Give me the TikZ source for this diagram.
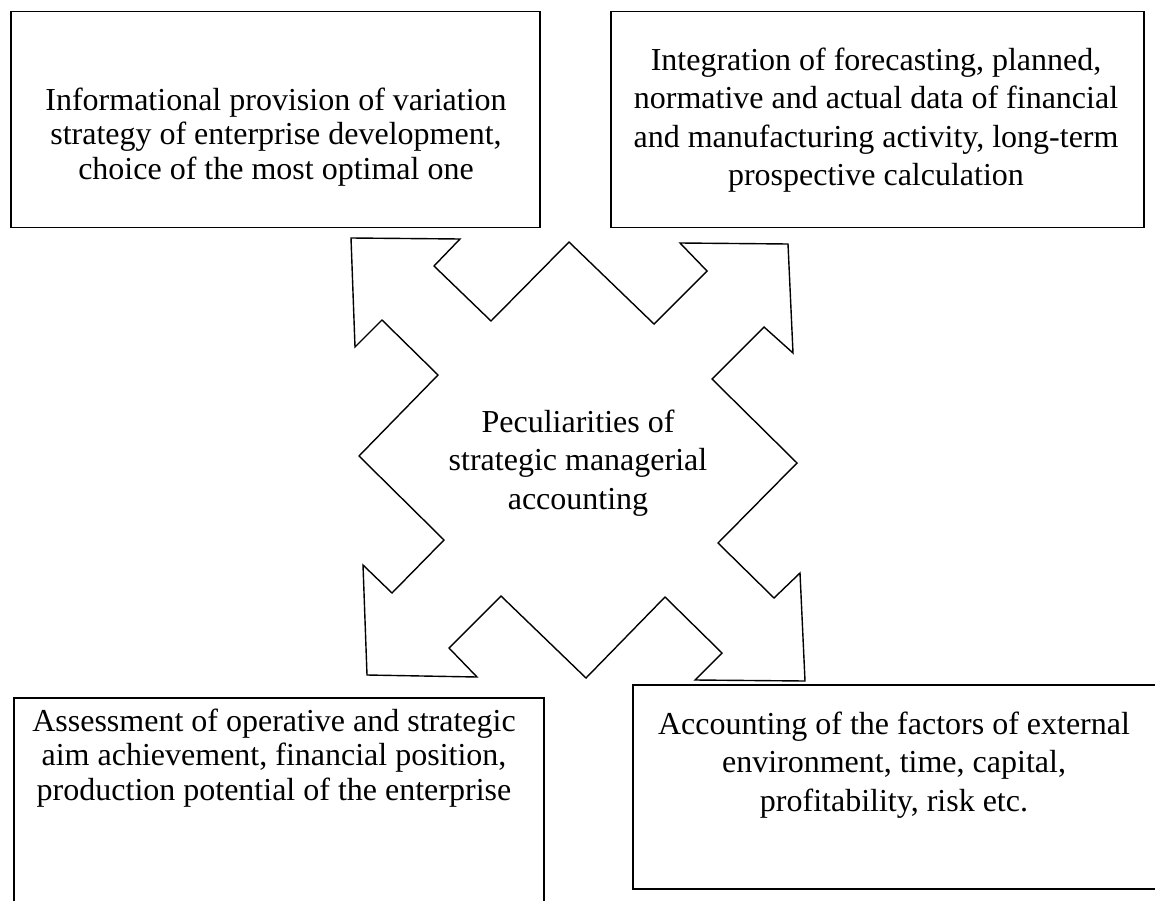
\documentclass[tikz,border=0pt]{standalone}
\usepackage{fontspec}
\setmainfont{Liberation Serif}
\usetikzlibrary{positioning}

\tikzset{box/.style={draw, line width=1.5pt, inner sep=0pt, anchor=north west},
  txt/.style={align=center, inner sep=0pt, font=\fontsize{32}{38.5}\selectfont},
  tighttxt/.style={txt, font=\fontsize{32}{34.5}\selectfont}}

\begin{document}
\begin{tikzpicture}[x=1pt, y=-1pt]
\clip (0,0) rectangle (1155,901);
% four boxes
\node[box, minimum width=529pt, minimum height=216pt] (info) at (10,11) {};
\node[box, minimum width=533pt, minimum height=216pt] (integr) at (610,11) {};
\node[box, minimum width=530pt, minimum height=240pt] (assess) at (13,697) {};
\node[box, minimum width=540pt, minimum height=204pt] (factors) at (632,684) {};
% texts
\node[tighttxt] (infotext) at (276,137) {Informational provision of variation\\strategy of enterprise development,\\choice of the most optimal one};
\node[txt] (integrtext) at (876,120) {Integration of forecasting, planned,\\normative and actual data of financial\\and manufacturing activity, long-term\\prospective calculation};
\node[tighttxt] (assesstext) at (274,758) {Assessment of operative and strategic\\aim achievement, financial position,\\production potential of the enterprise};
\node[txt] (factorstext) at (894,765) {Accounting of the factors of external\\environment, time, capital,\\profitability, risk etc.};
% star of four arrows
\draw[line width=1.4pt, line join=miter] (351,238) -- (460,239) -- (434,266) -- (491,321)
  -- (569,242) -- (654,324) -- (707,271) -- (680,243) -- (788,244)
  -- (793,353) -- (764,327) -- (712,379) -- (797,463) -- (718,543)
  -- (774,598) -- (800,573) -- (805,681) -- (695,680) -- (722,653)
  -- (665,597) -- (586,678) -- (501,596) -- (449,648) -- (477,677)
  -- (367,675) -- (363,565) -- (392,593) -- (444,540) -- (359,456)
  -- (438,375) -- (382,320) -- (355,347) -- cycle;
\node[txt] (core) at (578,463) {Peculiarities of\\strategic managerial\\accounting};
\end{tikzpicture}
\end{document}
